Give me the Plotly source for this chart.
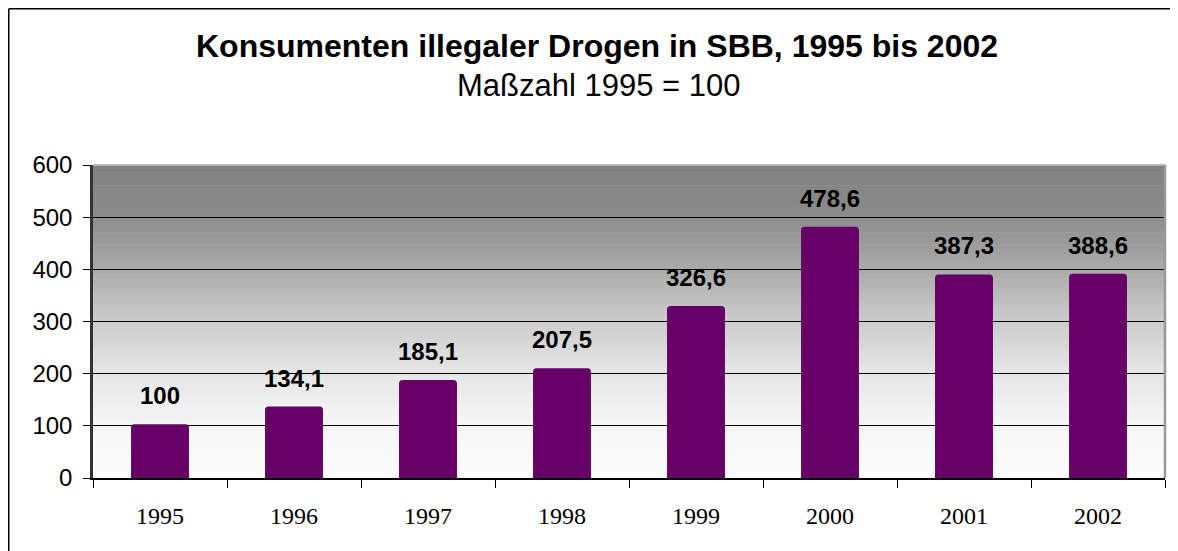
import plotly.graph_objects as go

years = ["1995", "1996", "1997", "1998", "1999", "2000", "2001", "2002"]
values = [100, 134.1, 185.1, 207.5, 326.6, 478.6, 387.3, 388.6]
y_ticks = [0, 100, 200, 300, 400, 500, 600]

title_text = "Konsumenten illegaler Drogen in SBB, 1995 bis 2002"
subtitle_text = "Maßzahl 1995 = 100"

# page shows the figure offset by the body margin
OFF = 8
W, H = 1178, 551
PL, PR, PT, PB = 93 - OFF, 1165 - OFF, 165 - OFF, 478 - OFF  # plot area in figure px
ML, MR, MT, MB = PL, W - PR, PT, H - PB
PW = W - ML - MR
PH = H - MT - MB


def px_x(x):
    return (x - ML) / PW


def px_y(y):
    return (H - MB - y) / PH


fig = go.Figure()
fig.add_trace(go.Bar(
    x=years, y=values,
    marker=dict(color="#660066", line=dict(width=3, color="#660066"), cornerradius=2),
    hoverinfo="x+y",
))

# gradient background (style only)
stops = [(0.0, 252), (1/6, 246), (2/6, 230), (3/6, 204), (4/6, 170), (5/6, 140), (1.0, 128)]


def gray_at(t):
    for (a, ga), (b, gb) in zip(stops[:-1], stops[1:]):
        if a <= t <= b:
            f = (t - a) / (b - a)
            return ga + (gb - ga) * f
    return stops[-1][1]


shapes = []
N = 120
for i in range(N):
    t0, t1 = i / N, (i + 1) / N
    g = int(round(gray_at((t0 + t1) / 2)))
    shapes.append(dict(type="rect", xref="x domain", yref="y domain",
                       x0=0, x1=1, y0=t0, y1=t1 + 0.002, layer="below",
                       fillcolor=f"rgb({g},{g},{g})", line=dict(width=0)))
# top light edge and right gray edge of plot area
shapes.append(dict(type="line", xref="x domain", yref="y domain", x0=0, x1=1, y0=1, y1=1,
                   line=dict(color="#c8c8c8", width=1.5), layer="above"))
shapes.append(dict(type="line", xref="x domain", yref="y domain", x0=1, x1=1, y0=0, y1=1,
                   line=dict(color="#999999", width=2.5), layer="above"))
# outer chart border (top and left; right/bottom lie outside the window)
shapes.append(dict(type="line", xref="paper", yref="paper", x0=px_x(0.75), x1=px_x(W + 5),
                   y0=px_y(0.75), y1=px_y(0.75), line=dict(color="black", width=1.5)))
shapes.append(dict(type="line", xref="paper", yref="paper", x0=px_x(0.75), x1=px_x(0.75),
                   y0=px_y(0.75), y1=px_y(H + 5), line=dict(color="black", width=1.5)))

annotations = [
    dict(text=f"<b>{title_text}</b>", xref="paper", yref="paper", x=px_x(597 - OFF), y=px_y(46 - OFF),
         xanchor="center", yanchor="middle", showarrow=False,
         font=dict(family="Liberation Sans, Arial", size=32, color="black")),
    dict(text=subtitle_text, xref="paper", yref="paper", x=px_x(599 - OFF), y=px_y(85 - OFF),
         xanchor="center", yanchor="middle", showarrow=False,
         font=dict(family="Liberation Sans, Arial", size=31, color="black")),
]
for i, v in enumerate(values):
    annotations.append(dict(
        text=f"<b>{v:g}</b>".replace(".", ","), x=i, y=v, xref="x", yref="y",
        xanchor="center", yanchor="middle", yshift=30, showarrow=False,
        font=dict(family="Liberation Sans, Arial", size=24, color="black")))

fig.update_layout(
    width=W, height=H,
    margin=dict(l=ML, r=MR, t=MT, b=MB),
    paper_bgcolor="white", plot_bgcolor="rgba(0,0,0,0)",
    bargap=0.59, showlegend=False,
    shapes=shapes, annotations=annotations,
    xaxis=dict(type="category", range=[-0.5, len(years) - 0.5], automargin=False,
               showgrid=False, showline=True, linecolor="black", linewidth=1.5,
               ticks="outside", tickson="boundaries", ticklen=8, tickcolor="black", tickwidth=1,
               tickangle=0,
               tickfont=dict(family="Liberation Serif, Times New Roman", size=24, color="black"),
               ticklabelstandoff=15),
    yaxis=dict(range=[0, 600], tickvals=y_ticks, automargin=False,
               showgrid=True, gridcolor="black", gridwidth=1,
               showline=True, linecolor="#333333", linewidth=2.5,
               ticks="outside", ticklen=7, tickcolor="black", tickwidth=1,
               tickfont=dict(family="Liberation Sans, Arial", size=24, color="black"),
               ticklabelstandoff=6, zeroline=False),
)

fig.write_html("out.html")
